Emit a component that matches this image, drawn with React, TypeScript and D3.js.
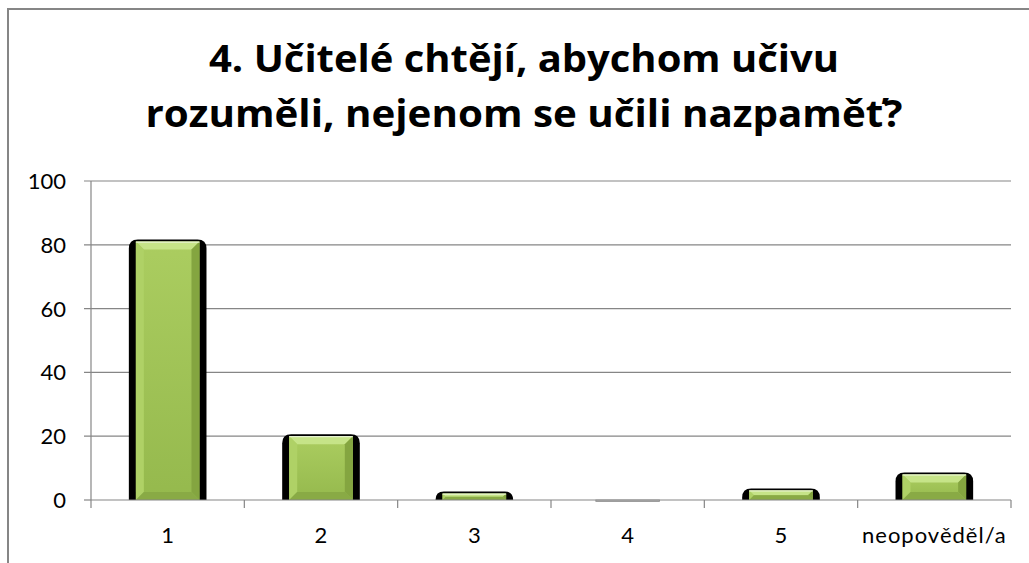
import React from "react";
import * as d3 from "d3";

const TITLE_LINES = ["4. Učitelé chtějí, abychom učivu", "rozuměli, nejenom se učili nazpaměť?"];
const CATEGORIES = ["1", "2", "3", "4", "5", "neopověděl/a"];
const VALUES = [81, 20, 2, 0, 3, 8];
const Y_TICKS = [0, 20, 40, 60, 80, 100];

const W = 1029;
const H = 563;
const PLOT = { left: 91, right: 1011, top: 181, bottom: 500 };
const FONT = "Lato, 'Open Sans', sans-serif";
const TITLE_FONT = "'Open Sans', Lato, sans-serif";
const TITLE_WIDTHS = [630, 757];
const GRID = "#868686";

export default function App() {
  const x = d3
    .scaleBand<string>()
    .domain(CATEGORIES)
    .range([PLOT.left, PLOT.right])
    .paddingInner(0.585)
    .paddingOuter(0.2925);
  const y = d3.scaleLinear().domain([0, 100]).range([PLOT.bottom, PLOT.top]);
  const step = x.step();
  const boundaries = d3.range(CATEGORIES.length + 1).map((i) => PLOT.left + i * step);

  return (
    <svg
      width={W}
      height={H}
      style={{ position: "absolute", left: 0, top: 0, background: "#fff" }}
      fontFamily={FONT}
    >
      <defs>
        <linearGradient id="face" x1="0" y1="0" x2="0" y2="1">
          <stop offset="0" stopColor="#abcd60" />
          <stop offset="1" stopColor="#95b94d" />
        </linearGradient>
        <filter id="blur" x="-20%" y="-20%" width="140%" height="140%">
          <feGaussianBlur stdDeviation="0.7" />
        </filter>
      </defs>
      <rect x={8} y={9} width={W + 20} height={H + 20} fill="#fff" stroke={GRID} strokeWidth={2} />
      {TITLE_LINES.map((t, i) => (
        <text
          key={i}
          x={524}
          y={72 + i * 55}
          textAnchor="middle"
          fontFamily={TITLE_FONT}
          fontSize={37}
          fontWeight="bold"
          fill="#000"
          textLength={TITLE_WIDTHS[i]}
          lengthAdjust="spacingAndGlyphs"
        >
          {t}
        </text>
      ))}
      {/* gridlines */}
      {Y_TICKS.filter((v) => v > 0).map((v) => (
        <line
          key={v}
          x1={PLOT.left - 7}
          x2={PLOT.right}
          y1={y(v)}
          y2={y(v)}
          stroke={GRID}
          strokeWidth={1.2}
        />
      ))}
      {/* y axis */}
      <line x1={PLOT.left} x2={PLOT.left} y1={PLOT.top} y2={PLOT.bottom} stroke={GRID} strokeWidth={1.2} />
      <line x1={PLOT.left - 7} x2={PLOT.left} y1={y(0)} y2={y(0)} stroke={GRID} strokeWidth={1.2} />
      {Y_TICKS.map((v) => (
        <text
          key={v}
          x={66}
          y={y(v)}
          dy="0.36em"
          textAnchor="end"
          fontSize={22}
          fill="#000"
        >
          {v}
        </text>
      ))}
      {/* bars */}
      {CATEGORIES.map((c, i) => {
        const v = VALUES[i];
        const bx = x(c)!;
        const bw = x.bandwidth();
        const top = y(v);
        const h = PLOT.bottom - top;
        if (h < 0.5) {
          return (
            <rect
              key={c}
              x={bx}
              y={PLOT.bottom}
              width={bw}
              height={1.5}
              fill="#d8d8d8"
              stroke="#8a8a8a"
              strokeWidth={0.8}
            />
          );
        }
        const sx = bx - 7;
        const sw = bw + 14;
        const st = top - 2;
        const r = Math.min(9, h + 2);
        const shadowPath = `M${sx},${PLOT.bottom} L${sx},${st + r} Q${sx},${st} ${sx + r},${st} L${sx + sw - r},${st} Q${sx + sw},${st} ${sx + sw},${st + r} L${sx + sw},${PLOT.bottom} Z`;
        const b = Math.min(8, h / 2);
        const l = bx, rr = bx + bw, t = top, bt = PLOT.bottom;
        return (
          <g key={c}>
            <path d={shadowPath} fill="#000" />
            <rect x={l} y={t} width={bw} height={h} fill="url(#face)" />
            <g filter="url(#blur)">
              <polygon points={`${l},${t} ${rr},${t} ${rr - b},${t + b} ${l + b},${t + b}`} fill="#c6e488" />
              <polygon points={`${l},${t} ${l + b},${t + b} ${l + b},${bt - b} ${l},${bt}`} fill="#afd166" />
              <polygon points={`${rr},${t} ${rr - b},${t + b} ${rr - b},${bt - b} ${rr},${bt}`} fill="#84a540" />
              <polygon points={`${l},${bt} ${l + b},${bt - b} ${rr - b},${bt - b} ${rr},${bt}`} fill="#89aa45" />
            </g>
            <line x1={l} x2={rr} y1={t + 0.5} y2={t + 0.5} stroke="#f2f9e4" strokeWidth={1} />
          </g>
        );
      })}
      {/* x axis */}
      <line x1={PLOT.left} x2={PLOT.right} y1={PLOT.bottom} y2={PLOT.bottom} stroke={GRID} strokeWidth={1.2} />
      {boundaries.map((bx, i) => (
        <line key={i} x1={bx} x2={bx} y1={PLOT.bottom} y2={PLOT.bottom + 8} stroke={GRID} strokeWidth={1.2} />
      ))}
      {CATEGORIES.map((c) => (
        <text
          key={c}
          x={x(c)! + x.bandwidth() / 2}
          y={543}
          textAnchor="middle"
          fontSize={22}
          letterSpacing={c.length > 1 ? 1 : 0}
          fill="#000"
        >
          {c}
        </text>
      ))}
    </svg>
  );
}
